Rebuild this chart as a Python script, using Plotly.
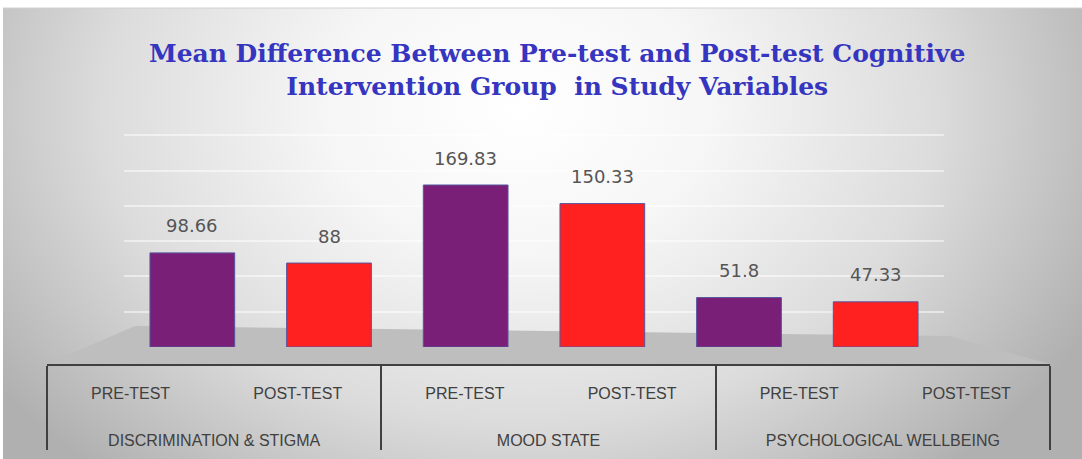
import base64
import plotly.graph_objects as go

groups = ["DISCRIMINATION & STIGMA", "DISCRIMINATION & STIGMA", "MOOD STATE", "MOOD STATE",
          "PSYCHOLOGICAL WELLBEING", "PSYCHOLOGICAL WELLBEING"]
tests = ["PRE-TEST", "POST-TEST", "PRE-TEST", "POST-TEST", "PRE-TEST", "POST-TEST"]
values = [98.66, 88, 169.83, 150.33, 51.8, 47.33]
labels = ["98.66", "88", "169.83", "150.33", "51.8", "47.33"]
colors = ["#7a1f78", "#ff2020", "#7a1f78", "#ff2020", "#7a1f78", "#ff2020"]

W, H = 1082, 459
L, R, T, B = 47, 32, 130, 95
PW, PH = W - L - R, H - T - B

svg = f'''<svg xmlns="http://www.w3.org/2000/svg" width="{W}" height="{H}">
<defs><radialGradient id="g" gradientUnits="userSpaceOnUse" cx="520" cy="110" r="640"
 gradientTransform="translate(520 110) scale(1 0.75) translate(-520 -110)">
<stop offset="0" stop-color="#ffffff"/><stop offset="0.3" stop-color="#f6f6f6"/>
<stop offset="0.65" stop-color="#dcdcdc"/><stop offset="1" stop-color="#b0b0b0"/></radialGradient></defs>
<rect width="{W}" height="{H}" fill="url(#g)"/>
<rect width="{W}" height="8" fill="#ffffff"/>
<rect width="3" height="{H}" fill="#ffffff"/>
<line x1="3" y1="8" x2="{W}" y2="8" stroke="#d0d0d0" stroke-width="1"/>
</svg>'''
src = "data:image/svg+xml;base64," + base64.b64encode(svg.encode()).decode()

# group labels shown lower, as in the reference
group_disp = ["<br><br>" + g for g in groups]

fig = go.Figure()
# invisible trace that builds the two-level category axis
fig.add_trace(go.Bar(x=[group_disp, tests], y=values, marker=dict(opacity=0),
                     hoverinfo="skip", showlegend=False, xaxis="x", yaxis="y"))
fig.add_trace(go.Bar(x=[groups, tests], y=values,
                     marker=dict(color=colors, line=dict(color="#55559f", width=1)),
                     width=0.62, showlegend=False, xaxis="x2", yaxis="y2"))

for g, t, v, lab in zip(groups, tests, values, labels):
    fig.add_annotation(x=[g, t], y=v, xref="x2", yref="y2", text=lab, showarrow=False,
                       yshift=27, font=dict(family="DejaVu Sans", size=18, color="#555555"))

fx = lambda px: (px - L) / PW
fy = lambda py: (H - B - py) / PH
fig.add_shape(type="path", xref="paper", yref="paper", layer="below",
              path=f"M {fx(47)},{fy(364)} L {fx(135)},{fy(326)} L {fx(950)},{fy(336)} L {fx(1050)},{fy(364)} Z",
              fillcolor="#bebebe", line=dict(width=0))

fig.add_layout_image(source=src, xref="paper", yref="paper", x=-L / PW, y=1 + T / PH,
                     sizex=W / PW, sizey=H / PH, xanchor="left", yanchor="top",
                     sizing="stretch", layer="below")

fig.update_layout(
    width=W, height=H, margin=dict(l=L, r=R, t=T, b=B),
    paper_bgcolor="#d8d8d8", plot_bgcolor="rgba(0,0,0,0)",
    title=dict(text="Mean Difference Between Pre-test and Post-test Cognitive<br>Intervention Group  in Study Variables",
               x=0.515, xanchor="center", y=1 - 62 / H, yanchor="top", yref="container",
               font=dict(family="DejaVu Serif", size=25, color="#3535c0", weight="bold")),
    xaxis=dict(type="multicategory", range=[-0.5, 5.5], showline=True, linecolor="#404040", linewidth=2,
               showdividers=True, dividercolor="#404040", dividerwidth=2,
               tickfont=dict(family="Liberation Sans", size=16, color="#404040"),
               showgrid=False, zeroline=False, ticks="", ticklabelstandoff=14,
               automargin=False),
    yaxis=dict(visible=False, range=[0, 1], fixedrange=True),
    xaxis2=dict(type="multicategory", domain=[(124 - L) / PW, (944 - L) / PW],
                range=[-0.5, 5.5], visible=False, anchor="y2"),
    yaxis2=dict(domain=[17 / PH, 1], range=[0, 227.5], visible=True, showticklabels=False,
                showgrid=True, gridcolor="rgba(255,255,255,0.5)", gridwidth=1.5, dtick=37,
                zeroline=False, anchor="x2"),
)
fig.write_html("out.html", config={"displayModeBar": False},
               post_script="document.body.style.margin='0';")
